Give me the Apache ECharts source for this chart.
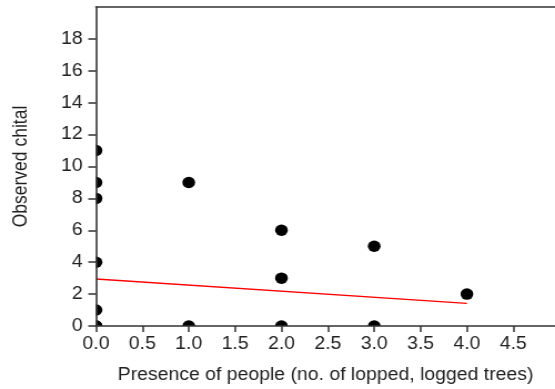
<!DOCTYPE html>
<html>
<head>
<meta charset="utf-8">
<script src="https://cdn.jsdelivr.net/npm/echarts@6/dist/echarts.min.js"></script>
<style>
  html, body { margin: 0; padding: 0; background: #fff; overflow: hidden; }
  /* the plot is laid out narrower and widened horizontally */
  #chart { width: 500px; height: 389px; transform: scaleX(1.11); transform-origin: 0 0; }
</style>
</head>
<body>
<div id="chart"></div>
<script>
// Observations: number of lopped/logged trees vs. chital counted
const peoplePresence = [0, 0, 0, 0, 0, 0, 0, 1, 1, 2, 2, 2, 3, 3, 4];
const chitalObserved = [0, 1, 4, 8, 9, 11, 0, 0, 9, 0, 3, 6, 0, 5, 2];

// Fitted regression line end points
const fitX = [0, 4];
const fitY = [2.95, 1.42];

const xTickValues = [0, 0.5, 1, 1.5, 2, 2.5, 3, 3.5, 4, 4.5];
const yTickValues = [0, 2, 4, 6, 8, 10, 12, 14, 16, 18];

const points = peoplePresence.map((x, i) => [x, chitalObserved[i]]);
const fitLine = fitX.map((x, i) => [x, fitY[i]]);

const axisColor = '#333';
const textColor = '#222';
const font = 'Liberation Sans, Arial, sans-serif';
const fontSize = 17.5;

const W = 500, H = 389;
const gridBox = { left: 86.5, right: 0, top: 7, bottom: 63 };

const chart = echarts.init(document.getElementById('chart'));
chart.setOption({
  animation: false,
  grid: gridBox,
  // white masks so markers sitting on the axes are cut at the plot edge
  graphic: [
    { type: 'rect', z: 5, silent: true,
      shape: { x: 0, y: 0, width: gridBox.left, height: H },
      style: { fill: '#fff' } },
    { type: 'rect', z: 5, silent: true,
      shape: { x: 0, y: H - gridBox.bottom, width: W, height: gridBox.bottom },
      style: { fill: '#fff' } }
  ],
  xAxis: [{
    type: 'value',
    z: 10,
    min: 0,
    max: 4.95,
    interval: 0.5,
    name: 'Presence of people (no. of lopped, logged trees)',
    nameLocation: 'middle',
    nameGap: 40,
    nameTextStyle: { color: textColor, fontSize: fontSize, fontFamily: font },
    axisLine: { show: true, onZero: false, lineStyle: { color: axisColor, width: 1.6 } },
    axisTick: { show: true, length: 6, customValues: xTickValues, lineStyle: { color: axisColor, width: 1.5 } },
    axisLabel: {
      customValues: xTickValues,
      formatter: v => v.toFixed(1),
      color: textColor, fontSize: fontSize, fontFamily: font, margin: 9
    },
    splitLine: { show: false }
  }, {
    type: 'value',
    position: 'top',
    z: 10,
    min: 0,
    max: 4.95,
    axisLine: { show: true, onZero: false, lineStyle: { color: axisColor, width: 1.6 } },
    axisTick: { show: false },
    axisLabel: { show: false },
    splitLine: { show: false }
  }],
  yAxis: {
    type: 'value',
    z: 10,
    min: 0,
    max: 20,
    interval: 2,
    name: 'Observed chital',
    nameLocation: 'middle',
    nameGap: 58,
    nameTextStyle: { color: textColor, fontSize: fontSize, fontFamily: font },
    axisLine: { show: true, onZero: false, lineStyle: { color: axisColor, width: 1.6 } },
    axisTick: { show: true, length: 7, customValues: yTickValues, lineStyle: { color: axisColor, width: 1.5 } },
    axisLabel: {
      customValues: yTickValues,
      color: textColor, fontSize: fontSize, fontFamily: font, margin: 12
    },
    splitLine: { show: false }
  },
  series: [{
    type: 'scatter',
    data: points,
    symbol: 'circle',
    symbolSize: 11.5,
    clip: true,
    itemStyle: { color: '#000', opacity: 1 },
    z: 3
  }, {
    type: 'line',
    data: fitLine,
    showSymbol: false,
    lineStyle: { color: '#ff0000', width: 1.4 },
    z: 2
  }]
});
</script>
</body>
</html>
